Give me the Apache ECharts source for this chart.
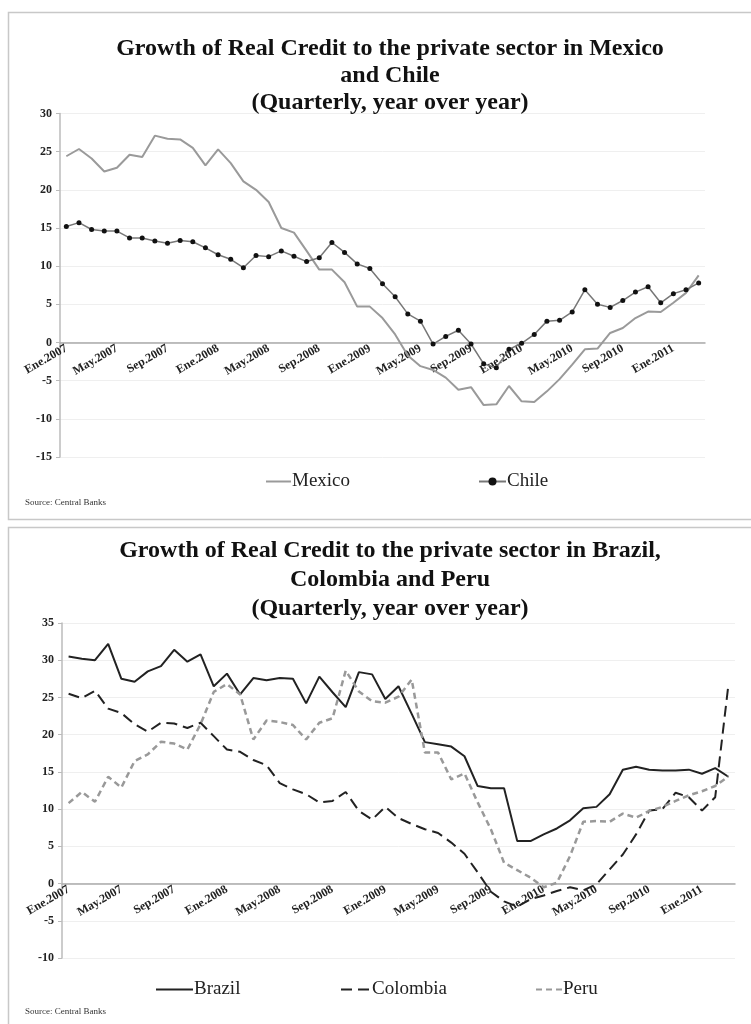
<!DOCTYPE html>
<html>
<head>
<meta charset="utf-8">
<script src="https://cdn.jsdelivr.net/npm/echarts@6/dist/echarts.min.js"></script>
<style>
  html, body { margin: 0; padding: 0; background: #fff; }
  #chart-container { width: 751px; height: 1024px; }
</style>
</head>
<body>
<div id="chart-container"></div>
<script>
const months = [
  'Ene.2007', 'Feb.2007', 'Mar.2007', 'Abr.2007', 'May.2007', 'Jun.2007', 'Jul.2007', 'Ago.2007', 'Sep.2007', 'Oct.2007', 'Nov.2007', 'Dic.2007',
  'Ene.2008', 'Feb.2008', 'Mar.2008', 'Abr.2008', 'May.2008', 'Jun.2008', 'Jul.2008', 'Ago.2008', 'Sep.2008', 'Oct.2008', 'Nov.2008', 'Dic.2008',
  'Ene.2009', 'Feb.2009', 'Mar.2009', 'Abr.2009', 'May.2009', 'Jun.2009', 'Jul.2009', 'Ago.2009', 'Sep.2009', 'Oct.2009', 'Nov.2009', 'Dic.2009',
  'Ene.2010', 'Feb.2010', 'Mar.2010', 'Abr.2010', 'May.2010', 'Jun.2010', 'Jul.2010', 'Ago.2010', 'Sep.2010', 'Oct.2010', 'Nov.2010', 'Dic.2010',
  'Ene.2011', 'Feb.2011', 'Mar.2011'
];

// chart 1
const mexico = [24.4, 25.35, 24.1, 22.4, 22.9, 24.6, 24.3, 27.1, 26.7, 26.6,
  25.5, 23.2, 25.3, 23.5, 21.1, 20.0, 18.4, 15.0, 14.4, 12.0,
  9.55, 9.55, 7.9, 4.7, 4.7, 3.2, 1.05, -1.7, -3.1, -3.6,
  -4.6, -6.2, -5.85, -8.2, -8.1, -5.7, -7.7, -7.8, -6.4, -4.8,
  -2.9, -0.9, -0.8, 1.25, 1.9, 3.2, 4.05, 4.0, 5.2, 6.5, 8.8];
const chile = [15.2, 15.7, 14.8, 14.6, 14.6, 13.7, 13.7, 13.3, 13.0, 13.35,
  13.2, 12.4, 11.5, 10.9, 9.8, 11.4, 11.25, 12.0, 11.3, 10.6,
  11.1, 13.1, 11.8, 10.3, 9.7, 7.7, 6.0, 3.75, 2.8, -0.2,
  0.8, 1.6, -0.2, -2.8, -3.3, -0.9, -0.1, 1.05, 2.8, 2.9,
  4.0, 6.9, 5.0, 4.6, 5.5, 6.6, 7.3, 5.2, 6.4, 6.9, 7.8];

// chart 2
const brazil = [30.5, 30.2, 30.0, 32.2, 27.5, 27.1, 28.5, 29.2, 31.4, 29.8,
  30.8, 26.5, 28.2, 25.4, 27.6, 27.3, 27.6, 27.5, 24.2, 27.8,
  25.7, 23.7, 28.4, 28.1, 24.8, 26.5, 22.8, 19.0, 18.7, 18.4,
  17.1, 13.1, 12.8, 12.8, 5.7, 5.7, 6.6, 7.4, 8.5, 10.1,
  10.3, 12.0, 15.3, 15.7, 15.3, 15.2, 15.2, 15.3, 14.75, 15.5, 14.35];
const colombia = [25.5, 24.9, 25.9, 23.5, 22.9, 21.4, 20.4, 21.6, 21.5, 20.9,
  21.6, 19.8, 18.0, 17.7, 16.6, 15.9, 13.5, 12.65, 12.0, 10.9,
  11.1, 12.3, 9.75, 8.6, 10.3, 8.8, 8.0, 7.3, 6.8, 5.5,
  4.0, 1.5, -1.1, -2.4, -3.1, -2.1, -1.6, -1.0, -0.5, -0.9,
  -0.1, 1.9, 3.9, 6.6, 9.8, 10.0, 12.2, 11.6, 9.8, 11.6, 26.7];
const peru = [10.8, 12.3, 11.0, 14.35, 12.9, 16.45, 17.35, 19.05, 18.8, 18.0,
  21.4, 25.75, 26.8, 25.4, 19.35, 21.9, 21.7, 21.3, 19.35, 21.6,
  22.2, 28.6, 25.8, 24.5, 24.3, 25.1, 27.4, 17.6, 17.6, 14.0,
  14.8, 10.9, 7.3, 2.8, 1.8, 0.8, -0.5, 0.1, 3.7, 8.3,
  8.4, 8.3, 9.4, 8.85, 9.75, 10.3, 11.1, 11.85, 12.4, 13.1, 14.4];

const serif = '"Liberation Serif", "DejaVu Serif", serif';

const chart = echarts.init(document.getElementById('chart-container'));

// x axis sits on the zero line, labels hang below it (offset moves line + labels up)
function xAxisFor(gridIndex, offset) {
  return {
    type: 'category',
    gridIndex: gridIndex,
    data: months,
    boundaryGap: true,
    offset: offset,
    axisLine: { onZero: false, lineStyle: { color: '#aaa', width: 1.5 } },
    axisTick: { interval: 0, length: 4, lineStyle: { color: '#aaa' } },
    axisLabel: {
      interval: 3,
      rotate: 30,
      margin: 5,
      fontFamily: serif,
      fontWeight: 'bold',
      fontSize: 12,
      color: '#222'
    },
    splitLine: { show: false }
  };
}

function yAxisFor(gridIndex, min, max) {
  return {
    type: 'value',
    gridIndex: gridIndex,
    min: min,
    max: max,
    interval: 5,
    axisLine: { show: true, lineStyle: { color: '#bbb', width: 1.5 } },
    axisTick: { show: true, length: 4, lineStyle: { color: '#bbb' } },
    axisLabel: {
      margin: 8,
      fontFamily: serif,
      fontWeight: 'bold',
      fontSize: 12,
      color: '#222'
    },
    splitLine: { lineStyle: { color: '#efefef', width: 1 } }
  };
}

const titleStyle = {
  fontFamily: serif,
  fontWeight: 'bold',
  fontSize: 24,
  lineHeight: 27,
  color: '#111'
};

const legendText = { fontFamily: serif, fontSize: 19, color: '#222', padding: [0, 0, 0, -4] };
const noMarker = { opacity: 0 };

// one legend per entry so each can sit where the original puts it
function legendItem(item, left, top, iconWidth) {
  return {
    data: [item],
    left: left, top: top,
    itemWidth: iconWidth, itemHeight: 10,
    textStyle: legendText
  };
}

const option = {
  animation: false,
  backgroundColor: '#fff',
  title: [
    {
      text: 'Growth of Real Credit to the private sector in Mexico\nand Chile\n(Quarterly, year over year)',
      left: 385, top: 30, textAlign: 'center',
      textStyle: titleStyle
    },
    {
      text: 'Growth of Real Credit to the private sector in Brazil,\nColombia and Peru\n(Quarterly, year over year)',
      left: 385, top: 531, textAlign: 'center',
      textStyle: Object.assign({}, titleStyle, { lineHeight: 29 })
    }
  ],
  legend: [
    legendItem({ name: 'Mexico', itemStyle: noMarker }, 260, 467, 25),
    legendItem('Chile', 473, 467, 27),
    legendItem({ name: 'Brazil', itemStyle: noMarker }, 150, 975, 37),
    legendItem({ name: 'Colombia', itemStyle: noMarker }, 335, 975, 30),
    legendItem({ name: 'Peru', itemStyle: noMarker }, 530, 975, 26)
  ],
  grid: [
    { left: 60, top: 113.5, width: 645, height: 343.5 },
    { left: 62, top: 623, width: 673, height: 335 }
  ],
  xAxis: [xAxisFor(0, -114.5), xAxisFor(1, -74.4)],
  yAxis: [yAxisFor(0, -15, 30), yAxisFor(1, -10, 35)],
  graphic: [
    {
      type: 'rect', silent: true,
      shape: { x: 8.5, y: 12.5, width: 760, height: 507 },
      style: { fill: 'none', stroke: '#c8c8c8', lineWidth: 1.5 }
    },
    {
      type: 'rect', silent: true,
      shape: { x: 8.5, y: 527.5, width: 760, height: 520 },
      style: { fill: 'none', stroke: '#c8c8c8', lineWidth: 1.5 }
    },
    {
      type: 'text', left: 25, top: 498,
      style: { text: 'Source: Central Banks', font: '9px ' + serif, fill: '#333' }
    },
    {
      type: 'text', left: 25, top: 1007,
      style: { text: 'Source: Central Banks', font: '9px ' + serif, fill: '#333' }
    }
  ],
  series: [
    {
      name: 'Mexico', type: 'line', xAxisIndex: 0, yAxisIndex: 0,
      data: mexico, showSymbol: false, symbol: 'none',
      lineStyle: { color: '#9a9a9a', width: 2 },
      itemStyle: { color: '#9a9a9a' }
    },
    {
      name: 'Chile', type: 'line', xAxisIndex: 0, yAxisIndex: 0,
      data: chile, symbol: 'circle', symbolSize: 5,
      lineStyle: { color: '#777', width: 1.5 },
      itemStyle: { color: '#111' }
    },
    {
      name: 'Brazil', type: 'line', xAxisIndex: 1, yAxisIndex: 1,
      data: brazil, showSymbol: false, symbol: 'none',
      lineStyle: { color: '#222', width: 2 },
      itemStyle: { color: '#222' }
    },
    {
      name: 'Colombia', type: 'line', xAxisIndex: 1, yAxisIndex: 1,
      data: colombia, showSymbol: false, symbol: 'none',
      lineStyle: { color: '#222', width: 2, type: [11, 6] },
      itemStyle: { color: '#222' }
    },
    {
      name: 'Peru', type: 'line', xAxisIndex: 1, yAxisIndex: 1,
      data: peru, showSymbol: false, symbol: 'none',
      lineStyle: { color: '#999', width: 2.5, type: [6, 4] },
      itemStyle: { color: '#999' }
    }
  ]
};

chart.setOption(option);
</script>
</body>
</html>
